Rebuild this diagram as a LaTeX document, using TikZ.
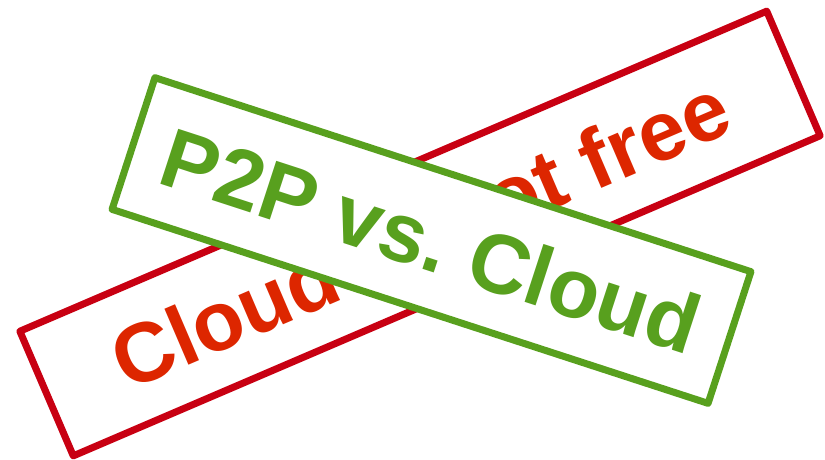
\documentclass[tikz,border=0pt]{standalone}
\usepackage{fontspec}
\setmainfont{Liberation Sans}
\definecolor{boxred}{RGB}{200,0,18}
\definecolor{textred}{RGB}{221,38,0}
\definecolor{boxgreen}{RGB}{88,160,30}
\frenchspacing
\begin{document}
\begin{tikzpicture}[x=1pt,y=-1pt,
  banner/.style={draw, line width=7pt, line join=round, fill=white, inner sep=0pt,
    font=\fontsize{84}{100}\selectfont\bfseries, align=center}]
\useasboundingbox (0,0) rectangle (825,459);
\node[banner, draw=boxred, text=textred, rotate=23.2,
  minimum width=812.6pt, minimum height=135.6pt] (red) at (420,233.5) {Cloud is not free};
\node[banner, draw=boxgreen, text=boxgreen, rotate=-18.03,
  minimum width=626.8pt, minimum height=138.5pt] (green) at (431.5,240.5) {P2P vs.\ Cloud};
\end{tikzpicture}
\end{document}
